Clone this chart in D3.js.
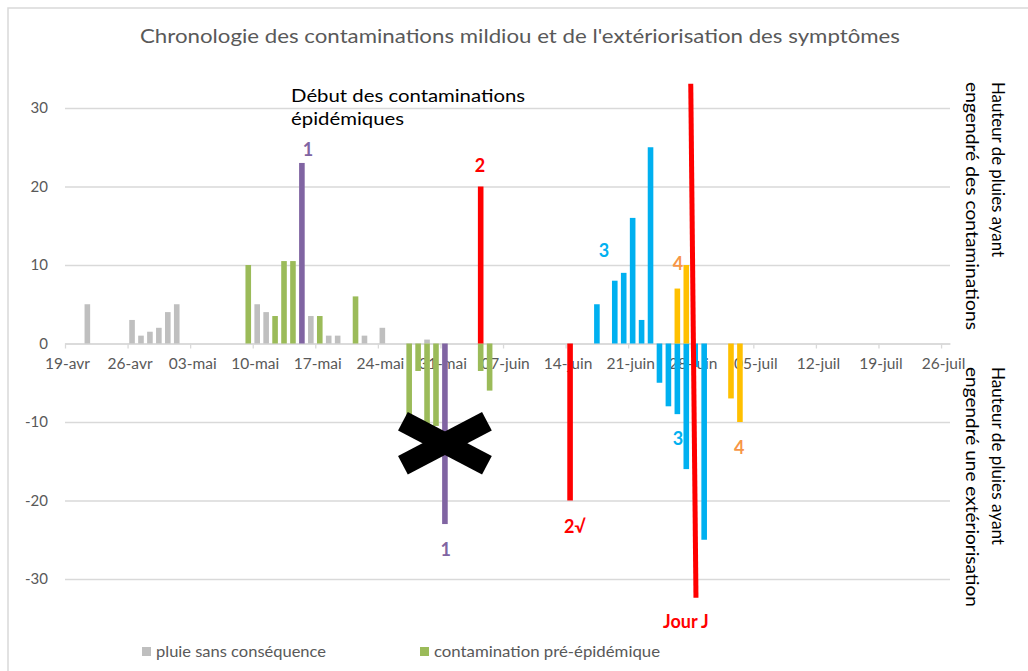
<!DOCTYPE html>
<html>
<head>
<meta charset="utf-8">
<script src="https://cdn.jsdelivr.net/npm/d3@7"></script>
<style>
  body { margin: 0; background: #fff; }
  svg { display: block; font-family: Lato, "Open Sans", sans-serif; }
</style>
</head>
<body>
<svg id="chart" width="1028" height="671"></svg>
<script>
// data (mm of rain per day, negative = extériorisation)
const pluieSansConsequence = [
  ["2021-04-21", 5], ["2021-04-26", 3], ["2021-04-27", 1], ["2021-04-28", 1.5],
  ["2021-04-29", 2], ["2021-04-30", 4], ["2021-05-01", 5], ["2021-05-10", 5],
  ["2021-05-11", 4], ["2021-05-16", 3.5], ["2021-05-18", 1], ["2021-05-19", 1],
  ["2021-05-22", 1], ["2021-05-24", 2], ["2021-05-29", 0.5]
];
const contaminationPreEpi = [
  ["2021-05-09", 10], ["2021-05-12", 3.5], ["2021-05-13", 10.5], ["2021-05-14", 10.5],
  ["2021-05-17", 3.5], ["2021-05-21", 6], ["2021-05-27", -10], ["2021-05-28", -3.5],
  ["2021-05-29", -10.5], ["2021-05-30", -10.5], ["2021-06-04", -3.5], ["2021-06-05", -6]
];
const epidemie1 = [["2021-05-15", 23], ["2021-05-31", -23]];
const epidemie2 = [["2021-06-04", 20], ["2021-06-14", -20]];
const epidemie3 = [
  ["2021-06-17", 5], ["2021-06-19", 8], ["2021-06-20", 9], ["2021-06-21", 16],
  ["2021-06-22", 3], ["2021-06-23", 25], ["2021-06-24", -5], ["2021-06-25", -8],
  ["2021-06-26", -9], ["2021-06-27", -16], ["2021-06-28", -3], ["2021-06-29", -25]
];
const epidemie4 = [["2021-06-26", 7], ["2021-06-27", 10], ["2021-07-02", -7], ["2021-07-03", -10]];

const yTicks = [-30, -20, -10, 0, 10, 20, 30];
const firstDay = "2021-04-19", endDay = "2021-07-27";

// Jour J line (slanted in the original)
const jourJ = [["2021-06-28T00", 33.1], ["2021-06-28T14", -32.4]];

// number labels: [date-hour, value at baseline, text, series]
const labels = [
  ["2021-05-16T04", 23.9, "1", "epi1"],
  ["2021-06-04T10", 21.8, "2", "epi2"],
  ["2021-06-18T07", 11.0, "3", "epi3"],
  ["2021-06-26T14", 9.4, "4", "epi4lab"],
  ["2021-05-31T14", -27.1, "1", "epi1"],
  ["2021-06-15T01", -24.2, "2\u221A", "epi2"],
  ["2021-06-26T14", -12.9, "3", "epi3"],
  ["2021-07-03T10", -14.1, "4", "epi4lab"],
  ["2021-06-27T11", -36.3, "Jour J", "epi2"]
];
const debutText = ["Début des contaminations", "épidémiques"];
const debutPos = ["2021-05-14T07", 30.8];
const crossPos = ["2021-05-31T12", -12.7];

const colors = {
  pluie: "#BFBFBF", pre: "#9BBB59", epi1: "#8064A2", epi2: "#FF0000",
  epi3: "#00B0F0", epi4: "#FFC000", epi4lab: "#F79646"
};

const parse = d3.timeParse("%Y-%m-%d");
const parseH = d3.timeParse("%Y-%m-%dT%H");

const svg = d3.select("#chart");
const fr = d3.timeFormatLocale({
  dateTime: "%A %e %B %Y à %X", date: "%d/%m/%Y", time: "%H:%M:%S",
  periods: ["AM", "PM"],
  days: ["dimanche","lundi","mardi","mercredi","jeudi","vendredi","samedi"],
  shortDays: ["dim","lun","mar","mer","jeu","ven","sam"],
  months: ["janvier","février","mars","avril","mai","juin","juillet","août","septembre","octobre","novembre","décembre"],
  shortMonths: ["janv","févr","mars","avr","mai","juin","juil","août","sept","oct","nov","déc"]
});
const fmt = fr.format("%d-%b");

// chart outer border
svg.append("rect")
  .attr("x", 8).attr("y", 8).attr("width", 1040).attr("height", 700)
  .attr("fill", "none").attr("stroke", "#D9D9D9").attr("stroke-width", 1.5);

const x = d3.scaleTime().domain([parse(firstDay), parse(endDay)]).range([65, 950]);
const y = d3.scaleLinear().domain([-30, 30]).range([579, 108]);
const dayW = x(d3.timeDay.offset(parse(firstDay), 1)) - x(parse(firstDay));
const barW = 5.6;

// stretch a text to the width it has in the original (Calibri is wider)
const fit = (sel, w) => sel.attr("textLength", w).attr("lengthAdjust", "spacingAndGlyphs");

// title
svg.append("text")
  .attr("x", 140).attr("y", 43)
  .attr("font-size", "19px")
  .attr("fill", "#595959")
  .text("Chronologie des contaminations mildiou et de l'extériorisation des symptômes")
  .call(fit, 760);

// y grid + labels
const yAxis = svg.append("g")
  .attr("transform", "translate(65,0)")
  .call(d3.axisLeft(y).tickValues(yTicks).tickSize(-885).tickPadding(17).tickFormat(d => String(d)));
yAxis.select(".domain").remove();
yAxis.selectAll("line").attr("stroke", "#D9D9D9").attr("stroke-width", 1.3);
yAxis.selectAll("text").attr("fill", "#595959").attr("font-size", "15px")
  .attr("font-family", "Lato, sans-serif");

// x axis
const tickDates = d3.timeDay.range(parse(firstDay), parse(endDay)).filter((d, i) => i % 7 === 0);
const xAxis = svg.append("g")
  .attr("transform", `translate(0,${y(0)})`)
  .call(d3.axisBottom(x).tickValues(tickDates).tickFormat(fmt).tickSize(5).tickSizeOuter(0).tickPadding(9));
xAxis.select(".domain").attr("stroke", "#D9D9D9").attr("stroke-width", 1.3);
xAxis.selectAll("line").attr("stroke", "#D9D9D9").attr("stroke-width", 1.3);
xAxis.selectAll("text").attr("fill", "#595959").attr("font-size", "15.5px")
  .attr("font-family", "Lato, sans-serif").attr("dx", "2px");

// bars
const series = [
  [pluieSansConsequence, "pluie"], [contaminationPreEpi, "pre"],
  [epidemie1, "epi1"], [epidemie2, "epi2"], [epidemie3, "epi3"], [epidemie4, "epi4"]
];
series.forEach(([data, key]) => {
  svg.append("g").selectAll("rect")
    .data(data)
    .join("rect")
    .attr("x", d => x(parse(d[0])) + dayW / 2 - barW / 2)
    .attr("y", d => y(Math.max(0, d[1])))
    .attr("width", barW)
    .attr("height", d => Math.abs(y(d[1]) - y(0)))
    .attr("fill", colors[key]);
});

// Jour J line
svg.append("line")
  .attr("x1", x(parseH(jourJ[0][0]))).attr("y1", y(jourJ[0][1]))
  .attr("x2", x(parseH(jourJ[1][0]))).attr("y2", y(jourJ[1][1]))
  .attr("stroke", "#FF0000").attr("stroke-width", 5);

// number labels
svg.append("g").selectAll("text")
  .data(labels)
  .join("text")
  .attr("x", d => x(parseH(d[0])))
  .attr("y", d => y(d[1]))
  .attr("text-anchor", "middle")
  .attr("font-size", "18px")
  .attr("font-weight", "bold")
  .attr("fill", d => colors[d[3]])
  .text(d => d[2]);

// "Début des contaminations épidémiques"
const debutW = [234, 113];
svg.append("g").selectAll("text")
  .data(debutText)
  .join("text")
  .attr("x", x(parseH(debutPos[0])))
  .attr("y", (d, i) => y(debutPos[1]) + i * 23)
  .attr("font-size", "18px")
  .attr("fill", "#000")
  .text(d => d)
  .attr("textLength", (d, i) => debutW[i])
  .attr("lengthAdjust", "spacingAndGlyphs");

// big black cross
const cx = x(parseH(crossPos[0])), cy = y(crossPos[1]);
[[-1, -1, 1, 1], [1, -1, -1, 1]].forEach(([a, b, c, d]) => {
  svg.append("line")
    .attr("x1", cx + a * 42).attr("y1", cy + b * 22)
    .attr("x2", cx + c * 42).attr("y2", cy + d * 22)
    .attr("stroke", "#000").attr("stroke-width", 21);
});

// right side titles (rotated)
const sideBlocks = [
  [["Hauteur de pluies ayant", "engendré des contaminations"], 82, [175, 248]],
  [["Hauteur de pluies ayant", "engendré une extériorisation"], 367, [178, 240]]
];
sideBlocks.forEach(([lines, top, widths]) => {
  lines.forEach((t, i) => {
    svg.append("text")
      .attr("transform", `translate(${i === 0 ? 992 : 966},${top}) rotate(90)`)
      .attr("font-size", "18px")
      .attr("fill", "#000")
      .text(t)
      .call(fit, widths[i]);
  });
});

// legend
const legendItems = [["pluie sans conséquence", "pluie", 142, 170], ["contamination pré-épidémique", "pre", 420, 226]];
const lg = svg.append("g").selectAll("g").data(legendItems).join("g")
  .attr("transform", d => `translate(${d[2]},652)`);
lg.append("rect").attr("x", 0).attr("y", -5).attr("width", 9).attr("height", 9)
  .attr("fill", d => colors[d[1]]);
lg.append("text").attr("x", 14).attr("y", 5).attr("font-size", "15px")
  .attr("fill", "#595959").text(d => d[0])
  .attr("textLength", d => d[3]).attr("lengthAdjust", "spacingAndGlyphs");
</script>
</body>
</html>
